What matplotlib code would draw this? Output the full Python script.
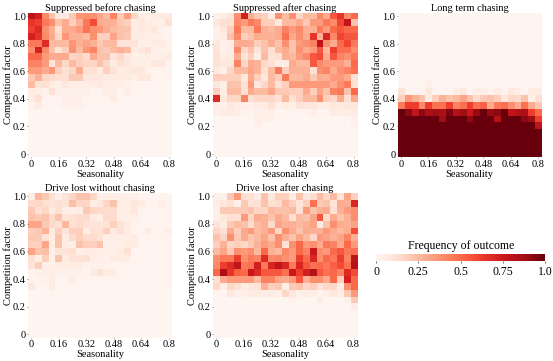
import numpy as np
import matplotlib
matplotlib.use("Agg")
import matplotlib.pyplot as plt
from matplotlib.cm import ScalarMappable
from matplotlib.colors import Normalize

plt.rcParams['font.family'] = ['Liberation Serif', 'DejaVu Serif']

x_ticks = [0, 0.16, 0.32, 0.48, 0.64, 0.8]
x_tick_labels = ['0', '0.16', '0.32', '0.48', '0.64', '0.8']
y_ticks = [0, 0.2, 0.4, 0.6, 0.8, 1.0]
y_tick_labels = ['0', '0.2', '0.4', '0.6', '0.8', '1.0']
cbar_ticks = [0, 0.25, 0.5, 0.75, 1.0]
cbar_tick_labels = ['0', '0.25', '0.5', '0.75', '1.0']

titles = ['Suppressed before chasing', 'Suppressed after chasing', 'Long term chasing',
          'Drive lost without chasing', 'Drive lost after chasing']

# percent of runs, rows go from competition 1.0 down to 0, columns seasonality 0 to 0.8
suppressed_before = [
    [80, 72, 40, 22, 7, 7, 20, 36, 38, 38, 32, 25, 42, 20, 34, 16, 6, 3, 6, 6, 6],
    [65, 62, 45, 38, 22, 30, 18, 28, 45, 58, 30, 28, 28, 20, 18, 5, 8, 5, 4, 3, 12],
    [62, 68, 38, 28, 12, 30, 30, 35, 47, 38, 36, 30, 25, 22, 22, 5, 8, 6, 8, 2, 1],
    [72, 65, 40, 30, 15, 36, 28, 28, 25, 38, 18, 18, 32, 22, 20, 5, 5, 5, 3, 3, 1],
    [45, 45, 68, 25, 25, 25, 36, 28, 32, 28, 20, 25, 25, 10, 10, 10, 3, 3, 6, 6, 2],
    [38, 72, 40, 22, 10, 18, 38, 25, 36, 42, 22, 20, 25, 28, 25, 5, 8, 12, 2, 2, 2],
    [50, 50, 35, 30, 30, 30, 16, 18, 14, 30, 22, 22, 10, 15, 8, 3, 3, 6, 2, 4, 6],
    [42, 42, 35, 10, 25, 15, 25, 18, 16, 16, 22, 15, 6, 12, 8, 4, 4, 4, 8, 8, 1],
    [35, 35, 30, 36, 18, 12, 15, 30, 10, 12, 6, 18, 10, 4, 6, 8, 8, 2, 1, 1, 1],
    [20, 28, 15, 14, 12, 12, 20, 20, 8, 8, 8, 6, 6, 6, 6, 3, 8, 8, 1, 1, 1],
    [25, 10, 12, 6, 3, 8, 4, 4, 5, 5, 7, 4, 5, 4, 2, 1, 1, 1, 1, 1, 0],
    [5, 5, 2, 12, 2, 2, 2, 3, 3, 1, 1, 4, 4, 1, 5, 1, 0, 0, 0, 0, 0],
    [4, 12, 1, 1, 1, 3, 3, 3, 1, 1, 1, 1, 6, 1, 0, 0, 0, 0, 0, 0, 0],
    [1, 6, 1, 1, 1, 3, 3, 3, 1, 1, 0, 0, 0, 0, 0, 0, 0, 0, 0, 0, 0],
    [0, 0, 0, 0, 0, 0, 0, 0, 0, 0, 0, 0, 0, 0, 0, 0, 0, 0, 0, 0, 0],
    [0, 0, 0, 0, 0, 0, 0, 0, 0, 0, 0, 0, 0, 0, 0, 0, 0, 0, 0, 0, 0],
    [0, 0, 0, 0, 0, 0, 0, 0, 0, 0, 0, 0, 0, 0, 0, 0, 0, 0, 0, 0, 0],
    [0, 0, 0, 0, 0, 0, 0, 0, 0, 0, 0, 0, 0, 0, 0, 0, 0, 0, 0, 0, 0],
    [0, 0, 0, 0, 0, 0, 0, 0, 0, 0, 0, 0, 0, 0, 0, 0, 0, 0, 0, 0, 0],
    [0, 0, 0, 0, 0, 0, 0, 0, 0, 0, 0, 0, 0, 0, 0, 0, 0, 0, 0, 0, 0],
    [0, 0, 0, 0, 0, 0, 0, 0, 0, 0, 0, 0, 0, 0, 0, 0, 0, 0, 0, 0, 0],
]

suppressed_after = [
    [3, 5, 10, 38, 72, 30, 20, 18, 6, 38, 25, 38, 15, 25, 25, 40, 30, 55, 65, 40, 50],
    [8, 12, 12, 40, 35, 45, 40, 18, 18, 8, 25, 25, 30, 20, 35, 35, 45, 40, 60, 78, 22],
    [2, 8, 18, 45, 25, 25, 45, 28, 25, 30, 42, 35, 40, 28, 28, 45, 35, 50, 55, 50, 50],
    [3, 5, 22, 40, 18, 22, 30, 28, 28, 30, 48, 30, 38, 30, 65, 28, 70, 40, 60, 55, 55],
    [8, 2, 5, 30, 30, 28, 18, 22, 30, 22, 38, 22, 35, 38, 42, 78, 38, 30, 50, 60, 45],
    [10, 3, 5, 40, 15, 22, 10, 22, 12, 25, 30, 22, 38, 30, 35, 55, 25, 62, 48, 48, 38],
    [12, 4, 6, 30, 10, 18, 5, 25, 10, 12, 28, 25, 35, 40, 55, 58, 30, 55, 42, 38, 45],
    [10, 8, 8, 42, 15, 30, 28, 15, 12, 5, 5, 30, 25, 25, 55, 40, 35, 35, 35, 28, 50],
    [8, 3, 15, 25, 25, 32, 28, 12, 25, 45, 18, 28, 28, 28, 12, 38, 42, 30, 38, 42, 48],
    [18, 18, 18, 18, 8, 30, 18, 8, 25, 18, 45, 25, 25, 30, 20, 30, 28, 35, 35, 30, 12],
    [8, 3, 22, 22, 12, 35, 8, 15, 25, 12, 18, 35, 35, 35, 35, 35, 35, 30, 38, 45, 12],
    [18, 6, 25, 25, 12, 30, 25, 25, 32, 20, 20, 18, 18, 30, 18, 32, 22, 42, 45, 22, 50],
    [68, 8, 15, 15, 42, 12, 15, 15, 15, 12, 25, 12, 18, 25, 25, 38, 18, 15, 30, 12, 30],
    [5, 2, 8, 5, 5, 3, 5, 5, 12, 3, 6, 3, 10, 8, 8, 5, 5, 8, 6, 8, 8],
    [3, 6, 6, 5, 1, 1, 3, 3, 3, 1, 1, 1, 1, 1, 4, 1, 1, 6, 4, 4, 6],
    [0, 0, 0, 0, 0, 0, 4, 3, 3, 0, 0, 0, 0, 0, 0, 0, 0, 0, 0, 0, 2],
    [0, 0, 0, 0, 0, 0, 3, 0, 0, 0, 0, 0, 0, 0, 0, 0, 0, 0, 0, 0, 2],
    [0, 0, 0, 0, 0, 0, 0, 0, 0, 0, 0, 0, 0, 0, 0, 0, 0, 0, 0, 0, 0],
    [0, 0, 0, 0, 0, 0, 0, 0, 0, 0, 0, 0, 0, 0, 0, 0, 0, 0, 0, 0, 0],
    [0, 0, 0, 0, 0, 0, 0, 0, 0, 0, 0, 0, 0, 0, 0, 0, 0, 0, 0, 0, 0],
    [0, 0, 0, 0, 0, 0, 0, 0, 0, 0, 0, 0, 0, 0, 0, 0, 0, 0, 0, 0, 0],
]

long_term = [
    [0, 0, 0, 0, 0, 0, 0, 0, 0, 0, 0, 0, 0, 0, 0, 0, 0, 0, 0, 0, 0],
    [0, 0, 0, 0, 0, 0, 0, 0, 0, 0, 0, 0, 0, 0, 0, 0, 0, 0, 0, 0, 0],
    [0, 0, 0, 0, 0, 0, 0, 0, 0, 0, 0, 0, 0, 0, 0, 0, 0, 0, 0, 0, 0],
    [0, 0, 0, 0, 0, 0, 0, 0, 0, 0, 0, 0, 0, 0, 0, 0, 0, 0, 0, 0, 0],
    [0, 0, 0, 0, 0, 0, 0, 0, 0, 0, 0, 0, 0, 0, 0, 0, 0, 0, 0, 0, 0],
    [0, 0, 0, 0, 0, 0, 0, 0, 0, 0, 0, 0, 0, 0, 0, 0, 0, 0, 0, 0, 0],
    [0, 0, 0, 0, 0, 0, 0, 0, 0, 0, 0, 0, 0, 0, 0, 0, 0, 0, 0, 0, 0],
    [0, 0, 0, 0, 0, 0, 0, 0, 0, 0, 0, 0, 0, 0, 0, 0, 0, 0, 0, 0, 0],
    [0, 0, 0, 0, 0, 0, 0, 0, 0, 0, 0, 0, 0, 0, 0, 0, 0, 0, 0, 0, 0],
    [0, 0, 0, 0, 0, 0, 0, 0, 0, 0, 0, 0, 0, 0, 0, 0, 0, 0, 0, 0, 0],
    [0, 0, 0, 0, 3, 0, 0, 0, 0, 0, 0, 0, 0, 0, 0, 0, 0, 0, 0, 0, 0],
    [10, 1, 1, 1, 8, 1, 1, 1, 4, 7, 1, 4, 4, 1, 5, 1, 7, 5, 1, 6, 6],
    [18, 35, 28, 22, 6, 18, 28, 22, 25, 32, 22, 14, 20, 22, 18, 8, 15, 14, 22, 3, 12],
    [45, 62, 62, 40, 62, 48, 48, 62, 42, 48, 62, 48, 52, 30, 45, 48, 38, 30, 48, 30, 20],
    [100, 92, 78, 92, 85, 88, 85, 95, 82, 88, 75, 90, 100, 90, 92, 100, 78, 82, 85, 62, 50],
    [100, 100, 100, 100, 100, 100, 88, 100, 100, 100, 92, 100, 100, 100, 82, 100, 100, 100, 92, 88, 62],
    [100, 100, 100, 100, 100, 100, 100, 100, 100, 100, 100, 100, 100, 100, 100, 100, 100, 100, 100, 100, 80],
    [100, 100, 100, 100, 100, 100, 100, 100, 100, 100, 100, 100, 100, 100, 100, 100, 100, 100, 100, 100, 100],
    [100, 100, 100, 100, 100, 100, 100, 100, 100, 100, 100, 100, 100, 100, 100, 100, 100, 100, 100, 100, 100],
    [100, 100, 100, 100, 100, 100, 100, 100, 100, 100, 100, 100, 100, 100, 100, 100, 100, 100, 100, 100, 100],
    [100, 100, 100, 100, 100, 100, 100, 100, 100, 100, 100, 100, 100, 100, 100, 100, 100, 100, 100, 100, 100],
]

lost_without = [
    [5, 26, 20, 12, 3, 10, 16, 22, 22, 16, 2, 4, 4, 4, 3, 3, 1, 1, 1, 1, 1],
    [14, 16, 12, 10, 12, 10, 24, 16, 16, 5, 8, 16, 22, 5, 4, 8, 6, 1, 1, 4, 1],
    [20, 12, 16, 6, 12, 5, 3, 5, 20, 16, 14, 14, 14, 4, 4, 8, 1, 1, 1, 1, 1],
    [22, 20, 22, 14, 22, 10, 12, 14, 14, 6, 3, 14, 14, 4, 3, 3, 1, 1, 1, 1, 1],
    [32, 32, 20, 14, 12, 26, 12, 14, 10, 10, 10, 10, 18, 10, 6, 1, 1, 1, 1, 1, 1],
    [18, 20, 28, 6, 18, 10, 18, 18, 4, 12, 10, 18, 6, 12, 6, 1, 1, 6, 1, 1, 4],
    [20, 20, 10, 6, 22, 6, 14, 18, 14, 14, 10, 4, 4, 4, 4, 6, 1, 1, 1, 1, 1],
    [18, 18, 32, 4, 22, 6, 3, 22, 18, 18, 22, 2, 2, 3, 6, 6, 1, 1, 1, 1, 1],
    [32, 22, 24, 3, 10, 10, 12, 3, 6, 6, 5, 3, 3, 6, 12, 1, 1, 1, 1, 1, 1],
    [12, 4, 18, 2, 22, 6, 10, 10, 12, 4, 4, 2, 6, 6, 5, 1, 1, 1, 1, 1, 1],
    [10, 18, 3, 3, 6, 5, 5, 6, 2, 2, 2, 2, 1, 1, 1, 1, 1, 1, 1, 1, 1],
    [1, 3, 4, 4, 2, 2, 2, 2, 1, 6, 10, 6, 6, 1, 1, 1, 1, 1, 1, 1, 1],
    [1, 1, 2, 6, 1, 1, 6, 1, 1, 1, 1, 1, 1, 1, 1, 1, 1, 1, 1, 1, 1],
    [7, 1, 1, 6, 1, 1, 1, 1, 1, 1, 1, 1, 1, 1, 1, 1, 1, 1, 1, 1, 1],
    [0, 0, 0, 0, 0, 0, 0, 0, 0, 0, 0, 0, 0, 0, 0, 0, 0, 0, 0, 0, 0],
    [0, 0, 0, 0, 0, 0, 0, 0, 0, 0, 0, 0, 0, 0, 0, 0, 0, 0, 0, 0, 0],
    [0, 0, 0, 0, 0, 0, 0, 0, 0, 0, 0, 0, 0, 0, 0, 0, 0, 0, 0, 0, 0],
    [0, 0, 0, 0, 0, 0, 0, 0, 0, 0, 0, 0, 0, 0, 0, 0, 0, 0, 0, 0, 0],
    [0, 0, 0, 0, 0, 0, 0, 0, 0, 0, 0, 0, 0, 0, 0, 0, 0, 0, 0, 0, 0],
    [0, 0, 0, 0, 0, 0, 0, 0, 0, 0, 0, 0, 0, 0, 0, 0, 0, 0, 0, 0, 0],
    [0, 0, 0, 0, 0, 0, 0, 0, 0, 0, 0, 0, 0, 0, 0, 0, 0, 0, 0, 0, 0],
]

lost_after = [
    [3, 2, 20, 35, 12, 12, 5, 22, 8, 18, 18, 5, 22, 8, 14, 25, 15, 25, 10, 32, 18],
    [6, 8, 12, 3, 20, 10, 12, 22, 12, 14, 25, 18, 10, 18, 48, 20, 22, 10, 30, 28, 70],
    [3, 20, 20, 20, 20, 22, 16, 16, 25, 22, 22, 25, 12, 35, 22, 28, 30, 12, 28, 35, 38],
    [3, 8, 12, 12, 35, 16, 30, 28, 22, 30, 25, 12, 25, 22, 32, 55, 14, 30, 22, 28, 38],
    [10, 6, 20, 25, 22, 14, 25, 28, 14, 32, 28, 28, 25, 28, 32, 5, 22, 38, 30, 28, 32],
    [16, 12, 30, 18, 30, 35, 25, 28, 35, 16, 38, 30, 22, 30, 28, 28, 35, 30, 25, 30, 58],
    [22, 16, 38, 20, 30, 22, 25, 32, 22, 38, 28, 22, 32, 25, 15, 35, 32, 28, 32, 42, 28],
    [18, 28, 16, 18, 15, 20, 28, 35, 30, 38, 10, 38, 50, 35, 38, 30, 45, 42, 30, 50, 35],
    [25, 32, 20, 38, 35, 38, 25, 50, 28, 25, 40, 35, 50, 42, 75, 38, 35, 50, 55, 45, 48],
    [38, 45, 45, 62, 38, 45, 42, 68, 40, 42, 38, 35, 62, 50, 70, 38, 50, 45, 62, 42, 80],
    [40, 62, 68, 78, 45, 48, 72, 45, 70, 78, 70, 45, 70, 55, 48, 50, 45, 52, 58, 48, 82],
    [50, 85, 65, 52, 50, 75, 68, 55, 55, 55, 48, 75, 62, 72, 82, 55, 48, 50, 42, 68, 58],
    [12, 30, 35, 35, 35, 35, 25, 42, 42, 32, 30, 35, 55, 28, 38, 38, 30, 50, 18, 72, 50],
    [15, 5, 15, 12, 5, 8, 10, 28, 18, 20, 4, 20, 22, 15, 18, 10, 15, 15, 5, 38, 50],
    [1, 1, 8, 3, 3, 6, 6, 5, 6, 3, 15, 8, 3, 4, 4, 1, 4, 8, 4, 20, 35],
    [0, 0, 0, 0, 0, 0, 0, 0, 0, 0, 0, 3, 0, 0, 0, 6, 0, 0, 0, 3, 20],
    [0, 0, 0, 0, 0, 0, 0, 0, 0, 0, 0, 0, 0, 0, 0, 0, 0, 0, 0, 0, 5],
    [0, 0, 0, 0, 0, 0, 0, 0, 0, 0, 0, 0, 0, 0, 0, 0, 0, 0, 0, 0, 0],
    [0, 0, 0, 0, 0, 0, 0, 0, 0, 0, 0, 0, 0, 0, 0, 0, 0, 0, 0, 0, 0],
    [0, 0, 0, 0, 0, 0, 0, 0, 0, 0, 0, 0, 0, 0, 0, 0, 0, 0, 0, 0, 0],
    [0, 0, 0, 0, 0, 0, 0, 0, 0, 0, 0, 0, 0, 0, 0, 0, 0, 0, 0, 0, 0],
]

panels = [suppressed_before, suppressed_after, long_term, lost_without, lost_after]

W, H = 553, 361


def px_axes(fig, left, top, right, bottom):
    return fig.add_axes([left / W, 1 - bottom / H, (right - left) / W, (bottom - top) / H])


fig = plt.figure(figsize=(W / 100, H / 100), dpi=100)

boxes = [(28, 12.7, 172, 157.5), (212.5, 12.7, 357, 157.5), (397.5, 12.7, 541.5, 157.5),
         (28, 192.7, 172, 337.7), (212.5, 192.7, 357, 337.7)]

for i in range(5):
    ax = px_axes(fig, *boxes[i])
    values = np.array(panels[i]) / 100
    # half a cell on each side, ticks sit at cell centres
    ax.imshow(values, cmap='Reds', vmin=0, vmax=1, aspect='auto',
              extent=[-0.02, 0.82, -0.025, 1.025], interpolation='nearest')
    for side in ax.spines:
        ax.spines[side].set_visible(False)
    ax.set_xticks(x_ticks)
    ax.set_xticklabels(x_tick_labels)
    ax.set_yticks(y_ticks)
    ax.set_yticklabels(y_tick_labels)
    ax.tick_params(axis='both', labelsize=7.5, length=1, width=0.4, pad=0.5, color='#444444')
    ax.set_xlabel('Seasonality', fontsize=7.5)
    ax.xaxis.set_label_coords(0.5, -0.085)
    ax.set_ylabel('Competition factor', fontsize=7.5)
    ax.yaxis.set_label_coords(-0.105, 0.5)
    ax.set_title(titles[i], fontsize=7.5, pad=1)

cax = px_axes(fig, 376, 254.3, 545.3, 260.7)
cbar = fig.colorbar(ScalarMappable(Normalize(0, 1), 'Reds'), cax=cax, orientation='horizontal')
cbar.outline.set_visible(False)
cbar.set_ticks(cbar_ticks)
cbar.set_ticklabels(cbar_tick_labels)
cbar.ax.tick_params(labelsize=8.5, length=1.5, width=0.4, pad=2.5)
cax.set_title('Frequency of outcome', fontsize=8.5, pad=3.5)

fig.savefig('out.png', dpi=100)
